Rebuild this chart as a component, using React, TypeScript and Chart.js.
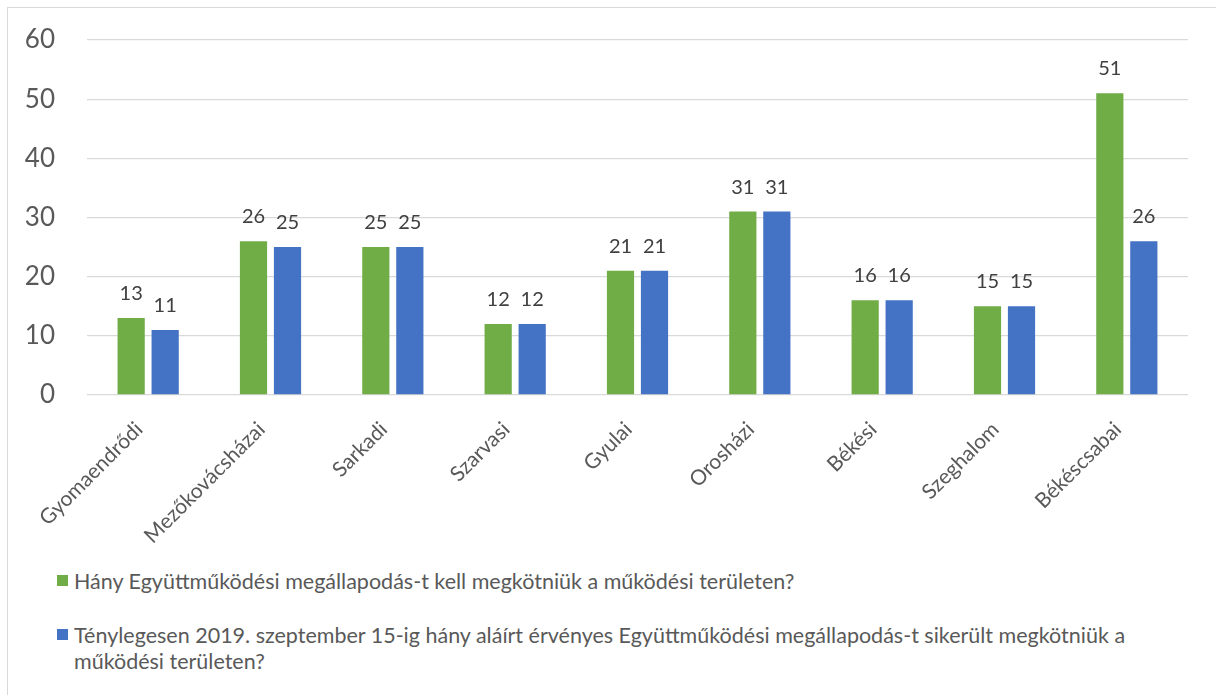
import React, { useEffect, useRef } from "react";
import { Chart, registerables } from "chart.js";

Chart.register(...registerables);

const categories = [
  "Gyomaendrődi",
  "Mezőkovácsházai",
  "Sarkadi",
  "Szarvasi",
  "Gyulai",
  "Orosházi",
  "Békési",
  "Szeghalom",
  "Békéscsabai",
];
const requiredAgreements = [13, 26, 25, 12, 21, 31, 16, 15, 51];
const signedAgreements = [11, 25, 25, 12, 21, 31, 16, 15, 26];
const seriesNames = [
  "Hány Együttműködési megállapodás-t kell megkötniük a működési területen?",
  "Ténylegesen 2019. szeptember 15-ig hány aláírt érvényes Együttműködési megállapodás-t sikerült megkötniük a működési területen?",
];
const seriesColors = ["#70AD47", "#4472C4"];
const yMin = 0;
const yMax = 60;
const yStep = 10;

const FONT = "Lato, 'Open Sans', sans-serif";

const dataLabelPlugin = {
  id: "dataLabels",
  afterDatasetsDraw(chart: any) {
    const ctx = chart.ctx;
    ctx.save();
    ctx.font = `20px ${FONT}`;
    ctx.fillStyle = "#404040";
    ctx.textAlign = "center";
    ctx.textBaseline = "alphabetic";
    chart.data.datasets.forEach((ds: any, i: number) => {
      chart.getDatasetMeta(i).data.forEach((bar: any, j: number) => {
        ctx.fillText(String(ds.data[j]), bar.x, bar.y - 18);
      });
    });
    ctx.restore();
  },
};

export default function App() {
  const canvasRef = useRef<HTMLCanvasElement>(null);

  useEffect(() => {
    if (!canvasRef.current) return;
    const chart = new Chart(canvasRef.current, {
      type: "bar",
      data: {
        labels: categories,
        datasets: [
          {
            label: seriesNames[0],
            data: requiredAgreements,
            backgroundColor: seriesColors[0],
            categoryPercentage: 0.556,
            barPercentage: 0.8,
          },
          {
            label: seriesNames[1],
            data: signedAgreements,
            backgroundColor: seriesColors[1],
            categoryPercentage: 0.556,
            barPercentage: 0.8,
          },
        ],
      },
      options: {
        responsive: false,
        animation: false,
        devicePixelRatio: 1,
        layout: { padding: { top: 40, right: 28, left: 0, bottom: 0 } },
        plugins: {
          legend: { display: false },
          tooltip: { enabled: false },
        },
        scales: {
          x: {
            grid: { display: false },
            border: { display: false },
            ticks: {
              autoSkip: false,
              minRotation: 45,
              maxRotation: 45,
              padding: 14,
              labelOffset: -9,
              color: "#595959",
              font: { family: FONT, size: 21 },
            },
            afterFit(scale: any) {
              scale.height = 165;
            },
          },
          y: {
            min: yMin,
            max: yMax,
            border: { display: false },
            grid: { color: "#d9d9d9", lineWidth: 1.3, drawTicks: false },
            ticks: {
              stepSize: yStep,
              padding: 32,
              color: "#595959",
              font: { family: FONT, size: 26 },
            },
            afterFit(scale: any) {
              scale.width = 87;
              scale.paddingTop = 0;
              scale.paddingBottom = 0;
            },
          },
        },
      },
      plugins: [dataLabelPlugin],
    });
    return () => chart.destroy();
  }, []);

  const legendText: React.CSSProperties = {
    position: "absolute",
    left: 74,
    fontFamily: FONT,
    fontSize: 21.5,
    lineHeight: "26px",
    color: "#595959",
    width: 1125,
    whiteSpace: "normal",
  };

  return (
    <div
      style={{
        position: "fixed",
        left: 0,
        top: 0,
        width: 1216,
        height: 695,
        overflow: "hidden",
        background: "#ffffff",
      }}
    >
      <div
        style={{
          position: "absolute",
          left: 7,
          top: 7,
          width: 1240,
          height: 720,
          border: "1px solid #d9d9d9",
        }}
      />
      <canvas
        ref={canvasRef}
        width={1216}
        height={560}
        style={{ position: "absolute", left: 0, top: 0 }}
      />
      <div style={{ position: "absolute", left: 57, top: 575, width: 11, height: 11, background: seriesColors[0] }} />
      <div style={{ ...legendText, top: 568 }}>{seriesNames[0]}</div>
      <div style={{ position: "absolute", left: 57, top: 629, width: 11, height: 11, background: seriesColors[1] }} />
      <div style={{ ...legendText, top: 622 }}>{seriesNames[1]}</div>
    </div>
  );
}
